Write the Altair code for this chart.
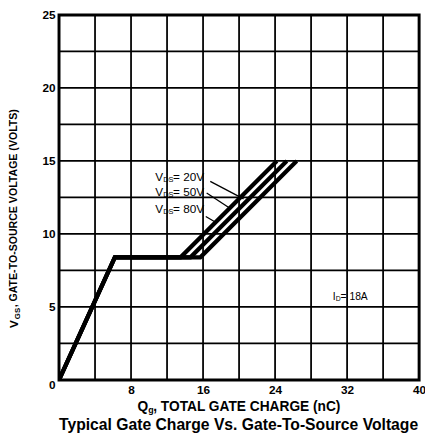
import altair as alt
import pandas as pd

# Curve data (Qg nC, VGS V)
series = ["VDS=20V", "VDS=50V", "VDS=80V"]
q_knee = [6.2, 6.2, 6.2]
v_knee = [8.4, 8.4, 8.4]
q_plateau_end = [13.5, 14.6, 15.7]
q_top = [24.2, 25.3, 26.4]
v_top = [15.0, 15.0, 15.0]

# Grid and tick labels
x_grid = [4, 8, 12, 16, 20, 24, 28, 32, 36]
y_grid = [2.5, 5, 7.5, 10, 12.5, 15, 17.5, 20, 22.5]
x_labels = [8, 16, 24, 32, 40]
y_labels = [0, 5, 10, 15, 20, 25]

rows = []
for i, s in enumerate(series):
    rows += [
        {"s": s, "o": 0, "q": 0.0, "v": 0.0},
        {"s": s, "o": 1, "q": q_knee[i], "v": v_knee[i]},
        {"s": s, "o": 2, "q": q_plateau_end[i], "v": v_knee[i]},
        {"s": s, "o": 3, "q": q_top[i], "v": v_top[i]},
    ]
curves = pd.DataFrame(rows)

# Annotation leader lines (data coords)
arrow_x = [16.8, 16.4, 16.3]
arrow_y = [13.6, 12.8, 11.2]
arrow_x2 = [20.5, 18.9, 17.4]
arrow_y2 = [12.4, 11.8, 10.8]
arrows = pd.DataFrame({"x": arrow_x, "y": arrow_y, "x2": arrow_x2, "y2": arrow_y2})

# Annotation labels
lab_num = ["= 20V", "= 50V", "= 80V"]
lab_x = [10.7, 10.7, 10.7]
lab_y = [13.9, 12.9, 11.7]
labels = pd.DataFrame({"x": lab_x, "y": lab_y, "num": lab_num, "v": ["V"] * 3, "sub": ["DS"] * 3})

FONT = "Liberation Sans"

xs = alt.Scale(domain=[0, 40], nice=False, zero=False)
ys = alt.Scale(domain=[0, 25], nice=False, zero=False)

x_axis = alt.Axis(values=x_labels, grid=False, ticks=False, domain=False,
                  labelFont=FONT, labelFontSize=12, labelFontWeight="bold", labelColor="black",
                  labelPadding=5, title=None, labelFlush=False)
y_axis = alt.Axis(values=y_labels, grid=False, ticks=False, domain=False,
                  labelFont=FONT, labelFontSize=12, labelFontWeight="bold", labelColor="black",
                  labelPadding=4, title=None, labelFlush=False,
                  labelBaseline={"condition": {"test": "datum.value == 0", "value": "top"}, "value": "middle"})

X = lambda f: alt.X(f, scale=xs, axis=x_axis)
Y = lambda f: alt.Y(f, scale=ys, axis=y_axis)

frame = alt.Chart(pd.DataFrame({"x": [0], "x2": [40], "y": [0], "y2": [25]})).mark_rect(
    fill=None, stroke="black", strokeWidth=3).encode(x=X("x:Q"), x2="x2:Q", y=Y("y:Q"), y2="y2:Q")

vgrid = alt.Chart(pd.DataFrame({"g": x_grid})).mark_rule(color="black", strokeWidth=1.8).encode(
    x=X("g:Q"))
hgrid = alt.Chart(pd.DataFrame({"g": y_grid})).mark_rule(color="black", strokeWidth=1.8).encode(
    y=Y("g:Q"))

lines = alt.Chart(curves).mark_line(color="black", strokeWidth=4.2, strokeJoin="miter", clip=True).encode(
    x=X("q:Q"), y=Y("v:Q"), detail="s:N", order="o:Q",
)

arrow_rules = alt.Chart(arrows).mark_rule(color="black", strokeWidth=1.3).encode(
    x=X("x:Q"), y=Y("y:Q"), x2="x2:Q", y2="y2:Q"
)

def tmark(df, field, size, dx=0, dy=0):
    return alt.Chart(df).mark_text(font=FONT, fontSize=size, align="left", baseline="middle",
                                   color="black", dx=dx, dy=dy).encode(
        x=X("x:Q"), y=Y("y:Q"), text=f"{field}:N")

t_v = tmark(labels, "v", 12)
t_sub = tmark(labels, "sub", 7.5, dx=8, dy=3)
t_num = tmark(labels, "num", 12, dx=18)

id_df = pd.DataFrame({"x": [30.4], "y": [5.7], "i": ["I"], "sub": ["D"], "num": ["= 18A"]})
id_i = tmark(id_df, "i", 10.5)
id_sub = tmark(id_df, "sub", 7, dx=3, dy=2)
id_num = tmark(id_df, "num", 10.5, dx=8)

# Titles (with subscripts), placed in pixel space around the plot
ttl = pd.DataFrame({"a": [0]})
def txt(text, x, y, size, angle=0, align="left", weight="bold"):
    return alt.Chart(ttl).mark_text(text=text, font=FONT, fontSize=size, fontWeight=weight, angle=angle,
                                    align=align, baseline="middle", color="black").encode(
        x=alt.value(x), y=alt.value(y))

y_title = [
    txt("V", -46, 319, 12, angle=270),
    txt("GS", -42, 310, 8, angle=270),
    txt(", GATE-TO-SOURCE VOLTAGE (VOLTS)", -46, 298, 10.8, angle=270),
]
x_title = [
    txt("Q", 80, 400, 14),
    txt("g", 91, 403, 9),
    txt(", TOTAL GATE CHARGE (nC)", 96, 400, 14),
]
main_title = [txt("Typical Gate Charge Vs. Gate-To-Source Voltage", 183, 418, 16, align="center")]

chart = alt.layer(
    vgrid, hgrid, frame, lines, arrow_rules, t_v, t_sub, t_num, id_i, id_sub, id_num,
    *y_title, *x_title, *main_title
).properties(
    width=367, height=372,
    autosize=alt.AutoSizeParams(type="none"),
    padding={"left": 52, "top": 3, "right": 6, "bottom": 52},
).configure_view(stroke=None).configure(background="white")

chart.save("out.html", embed_options={"renderer": "svg", "actions": False})
